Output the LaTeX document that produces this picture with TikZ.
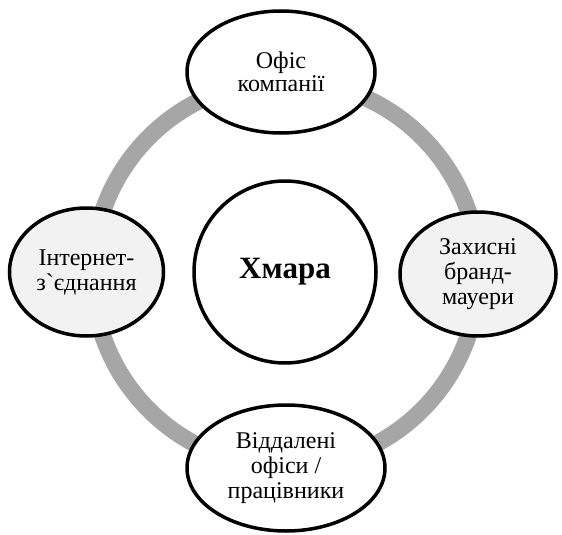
\documentclass[tikz,border=0pt]{standalone}
\usepackage{fontspec}
\setmainfont{Liberation Serif}
\usetikzlibrary{shapes.geometric}
\definecolor{ringgray}{HTML}{A6A6A6}
\definecolor{ovalgray}{HTML}{F2F2F2}

\begin{document}
\begin{tikzpicture}[x=1pt,y=-1pt]
            \tikzstyle{ring} = [draw=ringgray, line width=17pt]
            \tikzstyle{white oval} = [ellipse, draw=black, line width=3.5pt, fill=white, inner sep=0pt, align=center, font=\fontsize{24}{25}\selectfont]
            \tikzstyle{grey oval} = [white oval, fill=ovalgray]
            \tikzstyle{core} = [circle, draw=black, line width=3.5pt, fill=white, inner sep=0pt, minimum size=182pt, font=\fontsize{31}{32}\selectfont\bfseries]
            
            \useasboundingbox (0,0) rectangle (562,535);
            \draw[ring] (285.5,273.5) circle[radius=193pt];
            
            \node[core] (cloud) at (285,272) {Хмара};
            \node[white oval, minimum width=188pt, minimum height=122pt] (office) at (281,72) {\raisebox{-3pt}{\shortstack{Офіс\\[-1pt]компанії}}};
            \node[grey oval, minimum width=154pt, minimum height=128pt] (internet) at (86.5,272) {Інтернет-\\з\textasciigrave єднання};
            \node[grey oval, minimum width=156pt, minimum height=124pt] (firewall) at (478,274) {Захисні\\бранд-\\мауери};
            \node[white oval, minimum width=198pt, minimum height=126pt] (remote) at (286,468) {Віддалені\\офіси /\\працівники};
        \end{tikzpicture}
\end{document}
